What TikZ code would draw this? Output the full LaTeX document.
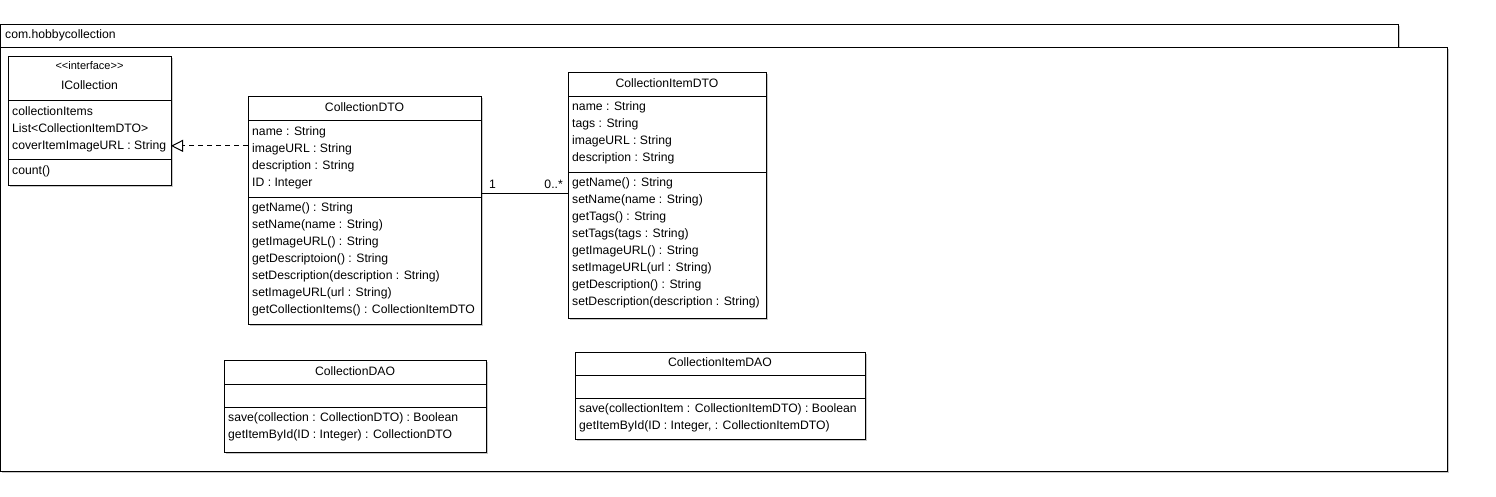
\documentclass[tikz,border=0pt]{standalone}
\usepackage{fontspec}
\setmainfont[Ligatures=NoCommon]{Liberation Sans}
\usetikzlibrary{arrows.meta}
\tikzset{
  umlbox/.style={draw, line width=1pt, fill=white, anchor=north west, inner sep=0pt, outer sep=0pt},
  shade/.style={fill=black!22},
  txt/.style={anchor=base west, inner sep=0pt, font=\fontsize{12.2}{14}\selectfont},
  ttl/.style={anchor=base, inner sep=0pt, font=\fontsize{12.2}{14}\selectfont},
  sep/.style={line width=1pt},
  realize/.style={line width=1pt, dash pattern=on 5pt off 4pt, -{Triangle[open, length=12pt, width=12pt]}},
  assoc/.style={line width=1pt},
}
\begin{document}
\begin{tikzpicture}[x=1pt,y=-1pt]
\useasboundingbox (0,0) rectangle (1496,496);
% package
\fill[shade] (2,26) rectangle (1400,49);
\fill[shade] (2,49) rectangle (1449,473);
\node[umlbox, minimum width=1398pt, minimum height=23pt] (pkgtab) at (0,24) {};
\node[umlbox, minimum width=1447pt, minimum height=424pt] (pkg) at (0,47) {};
\node[txt] (pkgname) at (5,38) {com.hobbycollection};

% ICollection
\fill[shade] (10,58) rectangle (173,187);
\node[umlbox, minimum width=163pt, minimum height=129pt] (icoll) at (8,56) {};
\draw[sep] (icoll.west |- 0,100) -- (icoll.east |- 0,100);
\draw[sep] (icoll.west |- 0,159) -- (icoll.east |- 0,159);
\node[ttl, font=\fontsize{11}{13}\selectfont] (icst) at (89.5,69.5) {\mbox{<}\mbox{<}interface\mbox{>}\mbox{>}};
\node[ttl] (icname) at (89.5,89) {ICollection};
\node[txt] (ica1) at (12,115) {collectionItems};
\node[txt] (ica2) at (12,132) {List\mbox{<}CollectionItemDTO\mbox{>}};
\node[txt] (ica3) at (12,149) {coverItemImageURL : String};
\node[txt] (icm1) at (12,174) {count()};

% CollectionDTO
\fill[shade] (250,98) rectangle (483,326);
\node[umlbox, minimum width=233pt, minimum height=228pt] (dto) at (248,96) {};
\draw[sep] (dto.west |- 0,120) -- (dto.east |- 0,120);
\draw[sep] (dto.west |- 0,197) -- (dto.east |- 0,197);
\node[ttl] (dtoname) at (364.5,111) {CollectionDTO};
\node[txt] (da1) at (252,135.5) {name : String};
\node[txt] (da2) at (252,152.5) {imageURL : String};
\node[txt] (da3) at (252,169.5) {description : String};
\node[txt] (da4) at (252,186.5) {ID : Integer};
\node[txt] (dm1) at (252,211) {getName() : String};
\node[txt] (dm2) at (252,228) {setName(name : String)};
\node[txt] (dm3) at (252,245) {getImageURL() : String};
\node[txt] (dm4) at (252,262) {getDescriptoion() : String};
\node[txt] (dm5) at (252,279) {setDescription(description : String)};
\node[txt] (dm6) at (252,296) {setImageURL(url : String)};
\node[txt] (dm7) at (252,313) {getCollectionItems() : CollectionItemDTO};

% CollectionItemDTO
\fill[shade] (570,74) rectangle (768,320);
\node[umlbox, minimum width=198pt, minimum height=246pt] (item) at (568,72) {};
\draw[sep] (item.west |- 0,96) -- (item.east |- 0,96);
\draw[sep] (item.west |- 0,172) -- (item.east |- 0,172);
\node[ttl] (itemname) at (667,87) {CollectionItemDTO};
\node[txt] (ia1) at (572,110.5) {name : String};
\node[txt] (ia2) at (572,127.5) {tags : String};
\node[txt] (ia3) at (572,144.5) {imageURL : String};
\node[txt] (ia4) at (572,161.5) {description : String};
\node[txt] (im1) at (572,186.5) {getName() : String};
\node[txt] (im2) at (572,203.5) {setName(name : String)};
\node[txt] (im3) at (572,220.5) {getTags() : String};
\node[txt] (im4) at (572,237.5) {setTags(tags : String)};
\node[txt] (im5) at (572,254.5) {getImageURL() : String};
\node[txt] (im6) at (572,271.5) {setImageURL(url : String)};
\node[txt] (im7) at (572,288.5) {getDescription() : String};
\node[txt] (im8) at (572,305.5) {setDescription(description : String)};

% CollectionDAO
\fill[shade] (226,362) rectangle (488,454);
\node[umlbox, minimum width=262pt, minimum height=92pt] (dao) at (224,360) {};
\draw[sep] (dao.west |- 0,384) -- (dao.east |- 0,384);
\draw[sep] (dao.west |- 0,407) -- (dao.east |- 0,407);
\node[ttl] (daoname) at (355,375) {CollectionDAO};
\node[txt] (dam1) at (228,421.5) {save(collection : CollectionDTO) : Boolean};
\node[txt] (dam2) at (228,438.5) {getItemById(ID : Integer) : CollectionDTO};

% CollectionItemDAO
\fill[shade] (577,354) rectangle (867,441);
\node[umlbox, minimum width=290pt, minimum height=87pt] (idao) at (575,352) {};
\draw[sep] (idao.west |- 0,375) -- (idao.east |- 0,375);
\draw[sep] (idao.west |- 0,398) -- (idao.east |- 0,398);
\node[ttl] (idaoname) at (720,366.5) {CollectionItemDAO};
\node[txt] (idm1) at (579,412.5) {save(collectionItem : CollectionItemDTO) : Boolean};
\node[txt] (idm2) at (579,429.5) {getItemById(ID : Integer, : CollectionItemDTO)};

% connectors
\draw[realize] (dto.west |- ica3) -- (icoll.east |- ica3);
\draw[assoc] (dto.east |- 0,193) -- (item.west |- 0,193);
\node[txt] (m1) at (489,188) {1};
\node[txt, anchor=base east] (m2) at (563,188) {0..*};
\end{tikzpicture}
\end{document}
